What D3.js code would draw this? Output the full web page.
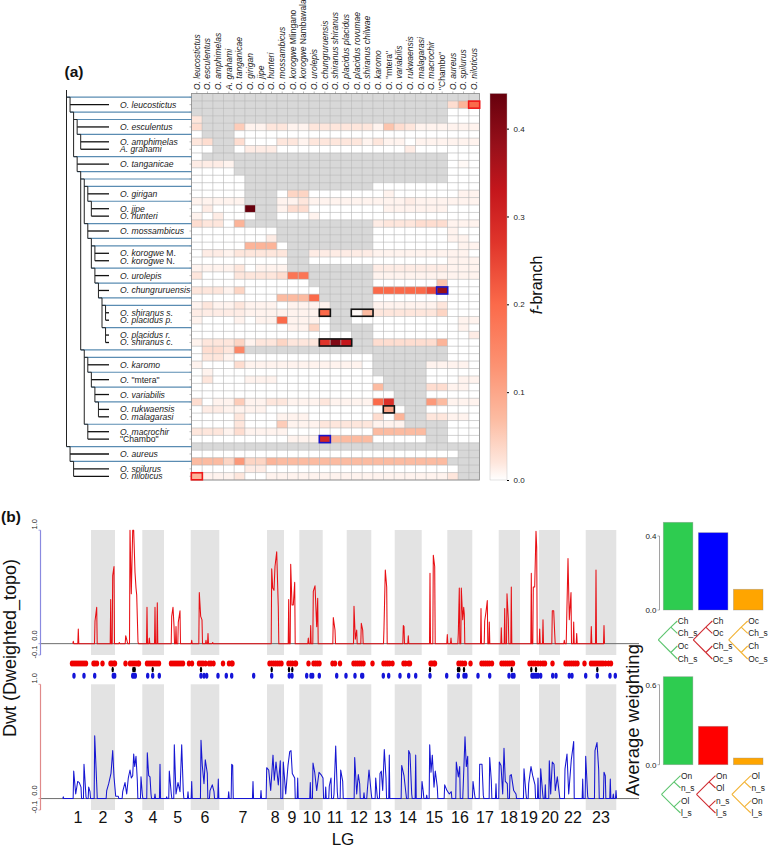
<!DOCTYPE html>
<html><head><meta charset="utf-8">
<script src="https://cdn.jsdelivr.net/npm/d3@7"></script>
<style>html,body{margin:0;padding:0;background:#fff}svg{display:block;font-family:"Liberation Sans",Arial,sans-serif}</style>
</head><body><svg id="c" width="769" height="848"></svg>
<script>
// ---------- DATA ----------
const columnNames = ["O. leucostictus","O. esculentus","O. amphimelas","A. grahami","O. tanganicae","O. girigan","O. jipe","O. hunteri","O. mossambicus","O. korogwe Mlingano","O. korogwe Nambawala","O. urolepis","O. chungruruensis","O. shiranus shiranus","O. placidus placidus","O. placidus rovumae","O. shiranus chilwae","O. karomo","O. \"mtera\"","O. variabilis","O. rukwaensis","O. malagarasi","O. macrochir","\"Chambo\"","O. aureus","O. spilurus","O. niloticus"];
// Ladder tree: arrays are internal branches, strings are tips. Each branch owns one heat-map row (pre-order).
const speciesTree = [
 ["O. leucostictus",[["O. esculentus",["O. amphimelas","A. grahami"]],["O. tanganicae",[
   [["O. girigan",["O. jipe","O. hunteri"]],["O. mossambicus",[["O. korogwe M.","O. korogwe N."],["O. urolepis",["O. chungruruensis",[["O. shiranus s.","O. placidus p."],["O. placidus r.","O. shiranus c."]]]]]]],
   [["O. karomo",["O. \"mtera\"",["O. variabilis",["O. rukwaensis","O. malagarasi"]]]],["O. macrochir","\"Chambo\""]]
 ]]]],
 ["O. aureus",["O. spilurus","O. niloticus"]]
];
// f-branch in hundredths, one string per row; _ = not applicable, v*n = n repeats
const fBranchRows = [
"_*27","_*24 3 8 20","_*24 0 0 0","2 _*23 0 0 0",
"3 _*3 5 1 1 2 2 1 1 2*6 1 6 3 2 1 1 1 1 1 1","0 _*3 0*23","2 3 _ _ 3 0 0 0 2 2 1 2 2 2 2 2 1 2 1 1 0 1 1 1 1 1 1","0 0 _ _ 0 1.5 1.5 1.5 0*12 1.5 0*6",
"0 _*23 0 0 0","1.5 1.5 1.5 1 _*20 0 .5 0","0*4 _*20 0 0 0","0*5 _*19 0 0 0",
"0*5 _*12 0*7 0 0 0","0*5 _*3 0 4 4 0*6 0 1 0 0 0 0 0 0 1 1","1*5 _*3 1 1 2 1*4 1 1 1 1 1 1.5 1 1 1 1 1 1","0 1.5 0 0 0 44 _ _ 1 3 3 0*6 0 1 1 1 1 1 1 0 0 0",
"1 0 1.5 0 0 0 _ _ 0 0 0 1 0*5 0*7 0 0 0","3 2 2 0 8 _*12 1.5 2 2 2 3 3 3 1 1 1","0*8 _*9 0*7 1 0 0","0*7 1.5 _*9 0*7 1 1 0",
"0*5 8 8 8 0 _*8 0*7 0 1 1","0 1.5 1.5 1 2 2 2 2 2 _ _ 1.5*6 1*7 1 1 0","0*9 _ _ 0*6 0*7 1 1 1","1 1 1 1 2 0 1 1 1 _*8 1.5*7 1 1 1",
"2 0 0 0 2 2 2 2 3 18 18 _*6 1*7 1 1 1","0*11 _*6 0*6 6 0 0 0","2 2 2 1 4 0*7 _*5 20 20 20 20 20 24 38 0 0 0","0*8 7 7 7 20 _*5 0*7 0 0 0",
"1 2 1 1 2 1 1 1 0 1 1 1 1 _*4 1 1 1 1 1 1 2 0 0 0","1.5*5 1*7 20 _ _ .5 7 2 2 2 2 2 2 4 0 0 0","1 0 0 0 1 0 1 1 20 1 1 1 0 _ _ 0 0 0*7 0 1 1","0*8 0 1 1 4 0 _*4 0*7 0 1 0",
"0*15 _ _ 0*7 0 0 1.5","1 2 2 2 4 1 2 2 4 2 2 2 27 41 33 _ _ 3*6 8 0 0 0","0 3 3 2 15 _*19 0 0 0","0 2 2 1 0*13 _*7 0 0 0",
"1 0 0 0 3 1*11 0 _*5 1 1 1 1 0","0 1 0*15 _*5 0 0 0 0 0","0 2 0 0 0 1 1 1 0*10 _*4 0 0 0 1 1","0*17 7 _*4 3 3 1 1 0",
"0*17 0 0 _*3 0 0 0 0 0","3 0 1 1 5 1 1 2 2 1 1 1 2 1 1 1 1 20 28 _*3 12 7 1 1 1","0 1.5 1.5 1 1 1 1 0*11 10 0 _ _ 0 0 0 0 0","0 0 0 0 2 0 0 0 1 1 1 0*6 3 0 8 _ _ 2 2 1 1 0",
"0 0 0 0 2 0 0 0 5 1 1 1 2 2 2 2 2 1 1 1 _*4 0 0 0","2 2 2 1 3 1 1 1 1 0*8 7*5 _ _ 0 0 0","0*9 1 1 1 30 7 7 7 7 0*5 _ _ 0 0 0","_*27",
"0*25 _ _","7 7 7 4 12 4 4 8 7*16 _*3","0*5 1.5 1.5 0*18 _ _","8 1 1 1 2 0 0 1*17 2 _ _"];
const highlightBoxes = [
 {row:1,from:26,to:26,color:"#f01818"},{row:51,from:0,to:0,color:"#f01818"},
 {row:26,from:23,to:23,color:"#1a14c8"},{row:46,from:12,to:12,color:"#1a14c8"},
 {row:29,from:12,to:12,color:"#111"},{row:29,from:15,to:16,color:"#111"},
 {row:33,from:12,to:14,color:"#111"},{row:42,from:18,to:18,color:"#111"}];
const fTicks = [0,0.1,0.2,0.3,0.4];

// Genome position unit runs 0..600 across panel (b)
const lgBands = [[51,75],[102.3,124],[150.7,179.3],[227,244],[259.3,282.7],[306.7,331.3],[354.7,381.7],[407.3,432.3],[458.7,480],[499,520],[545.7,576.3]];
const lgNames = ["1","2","3","4","5","6","7","8","9","10","11","12","13","14","15","16","17","18","19","20","22","23"];
const lgCentres = [38,63,88.7,113,137.7,165,203,235.3,252,271.7,295,319,342.7,368,394.3,420,445,469,489,510,533,561];
const redTrace = [[33.3,.02],[38.3,.13],[55,.2],[56.7,.32],[70.7,.39],[72.7,.6],[74,.68],[79.3,.01],[85.7,.07],[87.3,.015],[90,1],[91.3,.44],[92.7,1],[93.7,1],[95,.63],[96,.49],[96.7,.43],[98,.015],[107,.32],[109.3,.05],[115,.32],[117.3,.36],[131.7,.24],[133,.32],[134,.16],[136,.15],[138.3,.19],[140,.29],[151.7,.03],[159.3,.45],[160.7,.24],[162,.21],[166,.03],[168,.09],[172.7,.01],[231.7,.66],[232.7,.49],[234,.47],[235,.68],[236.7,.81],[238.3,.32],[248.7,.39],[250.7,.7],[252,.34],[253.3,.34],[254.7,.54],[268.3,.05],[270.7,.16],[273.3,.46],[275,.51],[276.7,.15],[277.7,.4],[293.3,.23],[295,.12],[314,.33],[315.3,.04],[316.7,.12],[321.3,.18],[322.7,.12],[344,.14],[345.3,.65],[346.7,.5],[363.3,.16],[364,.15],[368.3,.07],[390,.62],[393.3,.78],[394.7,.68],[407.3,.08],[411,.05],[418.3,.09],[419.3,.49],[421.3,.49],[422.7,.21],[423.7,.32],[424.3,.26],[441,.31],[444.7,.2],[446,.28],[447.3,.38],[449.3,.19],[461.3,.14],[464.7,.31],[467,.44],[468.3,.22],[471.3,.5],[491.3,.62],[493.3,.5],[494.7,.5],[496,.99],[496.7,.85],[499.7,.13],[503,.21],[512.3,.29],[513.7,.29],[514.7,.09],[524.3,.03],[526.7,.21],[528,.75],[529.3,.21],[531,.45],[533.7,.19],[536.7,.09],[551.3,.15],[556,.65],[564,.16]];
const blueTrace = [[23.3,.015],[33.7,.24],[35.7,.04],[37.7,.15],[39.3,.14],[41,.1],[44,.3],[46,.015],[48.7,.1],[50,.06],[54.7,.55],[56.7,.13],[66.7,.07],[68.7,.13],[71,.22],[72.7,.42],[74,.19],[75.7,.02],[78.3,.02],[82.7,.06],[85,.14],[86.7,.04],[88.3,.18],[90,.25],[91.3,.18],[92.7,.2],[93.7,.39],[94.7,.28],[96,.37],[97.3,.16],[101,.19],[102.3,.04],[107.3,.4],[108.7,.2],[110,.19],[111,.04],[115,.04],[120,.3],[126.7,.015],[129.3,.24],[131.3,.04],[134.3,.47],[136,.04],[138,.14],[140,.06],[141.7,.47],[143.3,.06],[148,.06],[151.7,.15],[161,.51],[162.3,.29],[164,.13],[165.3,.34],[167.3,.22],[170,.07],[172.3,.12],[174,.06],[178.3,.17],[188.7,.06],[191.7,.3],[192.7,.29],[213,.15],[221,.07],[226.7,.27],[228.7,.25],[230.7,.07],[233,.38],[234.3,.16],[236,.32],[238.3,.12],[240.3,.33],[243.3,.32],[245.7,.04],[248,.29],[249.7,.41],[251,.42],[252.3,.22],[254.7,.18],[257.7,.18],[270.3,.14],[273,.31],[274.7,.23],[276.7,.07],[279,.23],[281,.21],[283,.18],[285.7,.1],[289.3,.11],[291,.18],[294,.04],[295.7,.46],[297.3,.06],[300.7,.25],[302.7,.15],[314.7,.36],[316.7,.04],[318.3,.21],[319.7,.13],[324,.05],[327.3,.07],[329,.25],[331.3,.04],[335.7,.18],[337,.04],[340,.22],[341.3,.24],[342.7,.07],[344.3,.43],[346,.18],[349.3,.38],[361.7,.29],[364,.2],[366,.04],[368.7,.42],[370,.39],[371.7,.04],[375.7,.38],[382,.15],[383.3,.06],[386.7,.03],[389.7,.47],[391,.23],[392.3,.38],[394,.1],[395.3,.24],[397.3,.1],[404.7,.12],[407,.07],[409.3,.04],[411.3,.06],[416.3,.32],[418.3,.19],[419.7,.28],[423.3,.13],[425,.54],[426.3,.28],[427.7,.37],[433,.15],[434.7,.03],[439.7,.3],[442,.3],[443.3,.03],[449.7,.36],[451.3,.16],[456,.13],[459.3,.32],[461,.29],[462.7,.04],[464,.44],[465.3,.15],[467.3,.13],[470,.2],[471.3,.21],[473.7,.07],[476,.04],[484,.26],[486,.04],[488.7,.13],[491,.28],[492.7,.2],[495,.12],[498,.18],[500.7,.26],[502.7,.04],[505.3,.12],[509.3,.33],[510.7,.04],[512.3,.32],[514,.3],[515.3,.07],[517.3,.19],[519.3,.04],[525,.26],[527,.39],[528.7,.04],[531.3,.34],[533.7,.5],[542.7,.17],[545.7,.37],[547.7,.02],[555,.42],[557,.49],[558.7,.25],[564,.23],[565.3,.2],[570.3,.17],[573.3,.04],[576,.07]];
const redMarks = [32,34,36,38,40,42,44,46,53.5,55,57,62.5,70.5,72,74,75,85.5,90,92,94,96,98,99,107,109,111,113,115,117,119,131,133,135,137,139,141,143,149,152,159,161,163,165.5,169,171,173.5,183,189,191.5,192.5,229.5,231.5,233.5,235.5,237.5,239.5,241.5,248.5,250.5,252.5,255,256,268.5,273.5,275.5,277.5,279.5,292.5,295,300,313.5,315.5,317.5,319.5,321.5,323.5,332.5,343.5,345.5,347.5,349.5,352.5,363.5,365.5,368.5,370,390.5,392,394,395,418.5,420.5,422.5,425,430.5,441.5,443.5,445.5,447.5,449.5,452,461.5,463.5,465.5,467.5,469.5,471.5,473,489.5,491.5,493.5,495.5,498,500.5,503,505,512.5,525.5,527.5,529.5,531.5,533.5,535.5,537.5,544.5,551,553,555,557,559,561,563,565.5,568.5,571];
const blueMarks = [34,44,54.7,73.3,74.7,92.7,94,95.3,107.7,112.7,119.3,161,164,166.7,178,186.3,191.7,213.7,231.7,249.3,252,266.7,271,272.7,279.3,296.7,306,315,321.7,322.7,343.3,348.7,360,368.7,375.7,390,406.7,418.3,424,426,438,449.7,469,472.3,474,492,493.3,495,496.7,498.3,500.7,512.7,516,529.3,532,545.7,557.3,570,575.3];
const blackMarks = [72.7,93.3,94.7,112.7,161,231.7,249,252.3,390,418,419.3,424,471.7,491.3,496,557.3];

const topoIds = ["t1","t2","t3"];
const upperWeights = [0.474,0.418,0.112];
const lowerWeights = [0.66,0.288,0.05];
const upperBarColors = ["#2ecc50","#0000ff","#ffa500"];
const lowerBarColors = ["#2ecc50","#ff0000","#ffa500"];
const topoColors = ["#5cc46e","#cf2a30","#f2b233"];
const upperTips = [["Ch","Ch_s","Oc","Ch_s"],["Ch","Oc","Ch_s","Oc_s"],["Oc","Ch_s","Ch","Oc_s"]];
const lowerTips = [["On","n_s","Ol","l_s"],["On","Ol","n_s","l_s"],["Ol","n_s","On","l_s"]];

// ---------- DRAW ----------
const svg = d3.select("#c");
const TXT = "#222";
const fill = (s,n)=>Array(n).fill(s);
const fMatrix = fBranchRows.map(r=>r.split(" ").flatMap(t=>{
  const [v,n]=t.split("*"); return fill(v==="_"?null:+v/100,n?+n:1);}));
const hm = {l:191.5,r:479.5,t:93.5,b:480};
const xC = d3.scaleBand().domain(d3.range(27)).range([hm.l,hm.r]);
const yR = d3.scaleBand().domain(d3.range(52)).range([hm.t,hm.b]);
const yMid = r=>yR(r)+yR.bandwidth()/2;
const color = d3.scaleLinear()
  .domain([0,.02,.07,.13,.2,.27,.33,.38,.44])
  .range(["#ffffff","#fee6dc","#fcbba1","#fc9272","#fb6a4a","#e0352b","#c4161c","#98101a","#67000d"]).clamp(true);

// panel labels
svg.append("text").attr("x",64.5).attr("y",77).attr("font-size",15.5).attr("font-weight","bold").attr("fill","#111").text("(a)");
svg.append("text").attr("x",1).attr("y",522).attr("font-size",15.5).attr("font-weight","bold").attr("fill","#111").text("(b)");

// italic words except the qualifiers
function styled(sel,str){
  const upright=new Set(["M.","N.","Mlingano","Nambawala"]);
  str.split(" ").forEach((w,i,a)=>{
    const q=w.startsWith('"');
    sel.append("tspan").attr("font-style",(upright.has(w)||q)?"normal":"italic").text(w+(i<a.length-1?" ":""));
  });
}

// heat map
const hg = svg.append("g");
fMatrix.forEach((row,r)=>row.forEach((v,c)=>{
  hg.append("rect").attr("x",xC(c)).attr("y",yR(r)).attr("width",xC.bandwidth()).attr("height",yR.bandwidth())
    .attr("fill",v===null?"#d8d8d8":color(v)).attr("stroke","none");
}));
const gridC="#b4b4b4";
d3.range(28).forEach(i=>hg.append("line").attr("x1",hm.l+i*xC.bandwidth()).attr("x2",hm.l+i*xC.bandwidth()).attr("y1",hm.t).attr("y2",hm.b).attr("stroke",gridC).attr("stroke-width",.6));
d3.range(53).forEach(i=>hg.append("line").attr("y1",hm.t+i*yR.bandwidth()).attr("y2",hm.t+i*yR.bandwidth()).attr("x1",hm.l).attr("x2",hm.r).attr("stroke",gridC).attr("stroke-width",.6));
hg.append("rect").attr("x",hm.l).attr("y",hm.t).attr("width",hm.r-hm.l).attr("height",hm.b-hm.t).attr("fill","none").attr("stroke","#8f8f8f").attr("stroke-width",.8);
highlightBoxes.forEach(b=>hg.append("rect")
  .attr("x",xC(b.from)-.2).attr("y",yR(b.row)+.2)
  .attr("width",xC(b.to)+xC.bandwidth()-xC(b.from)+.4).attr("height",yR.bandwidth()-.4)
  .attr("fill","none").attr("stroke",b.color).attr("stroke-width",1.6));
// ticks + column labels
columnNames.forEach((n,c)=>{
  const x=xC(c)+xC.bandwidth()/2;
  hg.append("line").attr("x1",x).attr("x2",x).attr("y1",hm.t-2).attr("y2",hm.t).attr("stroke","#777").attr("stroke-width",.5);
  const t=svg.append("text").attr("transform",`translate(${x+2.8},90) rotate(-90)`).attr("font-size",8.5).attr("fill",TXT);
  styled(t,n);
});
d3.range(52).forEach(r=>hg.append("line").attr("x1",hm.l-2).attr("x2",hm.l).attr("y1",yMid(r)).attr("y2",yMid(r)).attr("stroke","#777").attr("stroke-width",.5));

// tree
const xD = d3.scaleLinear().domain([0,12]).range([66.5,109.1]);
const tg = svg.append("g"); const tipLayer = svg.append("g");
let rowCounter=0;
function walk(node,depth){
  const row=rowCounter++;
  const parentX=xD(depth-1);
  if(typeof node==="string"){
    tg.append("line").attr("x1",parentX).attr("x2",109).attr("y1",yMid(row)).attr("y2",yMid(row)).attr("stroke","#111").attr("stroke-width",1.3);
    const t=tipLayer.append("text").attr("x",120).attr("y",yMid(row)+3).attr("font-size",8.6).attr("fill",TXT);
    styled(t,node);
    return row;
  }
  tg.append("line").attr("x1",parentX).attr("x2",hm.l).attr("y1",yMid(row)).attr("y2",yMid(row)).attr("stroke","#5a8cb2").attr("stroke-width",1.2);
  tg.append("line").attr("x1",parentX).attr("x2",xD(depth)).attr("y1",yMid(row)).attr("y2",yMid(row)).attr("stroke","#222").attr("stroke-width",.9);
  const rows=node.map(k=>walk(k,depth+1));
  tg.append("line").attr("x1",xD(depth)).attr("x2",xD(depth)).attr("y1",yMid(row)).attr("y2",yMid(rows[1])).attr("stroke","#222").attr("stroke-width",1);
  return row;
}
const rootRows=speciesTree.map(k=>walk(k,1));
tg.append("line").attr("x1",xD(0)).attr("x2",xD(0)).attr("y1",90).attr("y2",yMid(rootRows[1])).attr("stroke","#222").attr("stroke-width",1);

// colour bar
const fY=d3.scaleLinear().domain([0,.44]).range([480,93.5]);
const grad=svg.append("defs").append("linearGradient").attr("id","fg").attr("x1",0).attr("x2",0).attr("y1",1).attr("y2",0);
color.domain().forEach(d=>grad.append("stop").attr("offset",d/.44).attr("stop-color",color(d)));
svg.append("rect").attr("x",490).attr("y",93.5).attr("width",17).attr("height",386.5).attr("fill","url(#fg)").attr("stroke","#bbb").attr("stroke-width",.4);
const fAxis=svg.append("g").attr("transform","translate(507,0)").call(d3.axisRight(fY).tickValues(fTicks).tickSize(2).tickFormat(d3.format(".1f")));
fAxis.select(".domain").remove();
fAxis.selectAll("text").attr("font-size",8).attr("font-family","inherit").attr("fill",TXT).attr("dx",1.5);
const fl=svg.append("text").attr("transform","translate(542,285) rotate(-90)").attr("text-anchor","middle").attr("font-size",16).attr("fill","#111");
fl.append("tspan").attr("font-style","italic").text("f");fl.append("tspan").text("-branch");

// panel b
const xP=d3.scaleLinear().domain([0,600]).range([40,640]);
const yU=d3.scaleLinear().domain([-.1,1]).range([655,530.2]);
const yL=d3.scaleLinear().domain([-.1,1]).range([810,684.3]);
const bandG=svg.append("g");
[[530,655],[684.3,810]].forEach(([a,b])=>lgBands.forEach(d=>bandG.append("rect").attr("x",xP(d[0])).attr("width",xP(d[1])-xP(d[0])).attr("y",a).attr("height",b-a).attr("fill","#e3e3e3")));
function traceWithDrops(tr,gap,half){
  const out=[];
  tr.forEach((p,i)=>{
    const prev=tr[i-1],next=tr[i+1];
    if(!prev||p[0]-prev[0]>gap) out.push([p[0]-half,0]);
    out.push(p);
    if(!next||next[0]-p[0]>gap) out.push([p[0]+half,0]);
  });
  return out;
}
[[yU,redTrace,"#e80f14",1.9,.5],[yL,blueTrace,"#1616d2",2.6,.55]].forEach(([y,tr,col,gap,half])=>{
  svg.append("line").attr("x1",xP(0)).attr("x2",639).attr("y1",y(0)).attr("y2",y(0)).attr("stroke","#6e6e6e").attr("stroke-width",1);
  svg.append("path").attr("d",d3.line().x(d=>xP(d[0])).y(d=>y(d[1]))(traceWithDrops(tr,gap,half))).attr("fill","none").attr("stroke",col).attr("stroke-width",1.05).attr("stroke-linejoin","round");
});
// axes
[[yU,"#8a8ae0"],[yL,"#e08a8a"]].forEach(([y,col])=>{
  const g=svg.append("g");
  g.append("line").attr("x1",40.5).attr("x2",40.5).attr("y1",y(1)).attr("y2",y(-.1)).attr("stroke",col).attr("stroke-width",1.2);
  [[1,"1.0",-6],[0,"0.0",-8],[-.1,"-0.1",-3]].forEach(([v,l,dy])=>{
    g.append("line").attr("x1",38.5).attr("x2",40.5).attr("y1",y(v)).attr("y2",y(v)).attr("stroke",col).attr("stroke-width",.8);
    g.append("text").attr("transform",`translate(36.5,${y(v)+dy}) rotate(-90)`).attr("text-anchor","middle").attr("font-size",7.5).attr("fill",TXT).text(l);
  });
});
// marks
redMarks.forEach(p=>svg.append("ellipse").attr("cx",xP(p)).attr("cy",663.4).attr("rx",2.2).attr("ry",3).attr("fill","#f00000"));
blackMarks.forEach(p=>svg.append("ellipse").attr("cx",xP(p)).attr("cy",669.5).attr("rx",1.2).attr("ry",2.8).attr("fill","#000"));
blueMarks.forEach(p=>svg.append("ellipse").attr("cx",xP(p)).attr("cy",675.8).attr("rx",1.7).attr("ry",3).attr("fill","#1414d8"));
// LG labels
lgNames.forEach((n,i)=>svg.append("text").attr("x",xP(lgCentres[i])).attr("y",822.5).attr("text-anchor","middle").attr("font-size",16).attr("fill","#111").text(n));
svg.append("text").attr("x",343).attr("y",844.5).attr("text-anchor","middle").attr("font-size",17).attr("fill","#111").text("LG");
svg.append("text").attr("transform","translate(16,648) rotate(-90)").attr("text-anchor","middle").attr("font-size",18).attr("fill","#111").text("Dwt (Dweighted_topo)");
svg.append("text").attr("transform","translate(639,720) rotate(-90)").attr("text-anchor","middle").attr("font-size",18.5).attr("fill","#111").text("Average weighting");

// weighting bars with topology cartoons
function barPanel(weights,cols,tipSets,y0,yTop,maxTick,tickText,tipY,shift){
  const y=d3.scaleLinear().domain([0,maxTick]).range([y0,yTop]);
  const x=d3.scaleBand().domain(topoIds).range([663.3,763]).paddingInner(.157);
  topoIds.forEach((id,i)=>svg.append("rect").attr("x",x(id)).attr("width",x.bandwidth()).attr("y",y(weights[i])).attr("height",y(0)-y(weights[i]))
    .attr("fill",cols[i]).attr("stroke","#8a8a8a").attr("stroke-opacity",.5).attr("stroke-width",.7));
  svg.append("line").attr("x1",659.5).attr("x2",659.5).attr("y1",y(0)).attr("y2",y(maxTick)).attr("stroke","#8a8a8a").attr("stroke-width",.8);
  [[0,"0.0"],[maxTick,tickText]].forEach(([v,l])=>{
    svg.append("line").attr("x1",657.5).attr("x2",659.5).attr("y1",y(v)).attr("y2",y(v)).attr("stroke","#8a8a8a").attr("stroke-width",.7);
    svg.append("text").attr("x",656.5).attr("y",y(v)+3).attr("text-anchor","end").attr("font-size",8).attr("fill",TXT).text(l);
  });
  const rootX=[658.3+shift,693.3+shift,728.7+shift];
  tipSets.forEach((tips,i)=>{
    const rx=rootX[i],tx=rx+19,midX=rx+12.5;
    const ty=tipY, mU=(ty[0]+ty[1])/2, mL=(ty[2]+ty[3])/2, my=(mU+mL)/2;
    const segs=[[rx,my,midX,mU],[rx,my,midX,mL],[midX,mU,tx,ty[0]],[midX,mU,tx,ty[1]],[midX,mL,tx,ty[2]],[midX,mL,tx,ty[3]]];
    segs.forEach(s=>svg.append("line").attr("x1",s[0]).attr("y1",s[1]).attr("x2",s[2]).attr("y2",s[3]).attr("stroke",topoColors[i]).attr("stroke-width",1.1));
    tips.forEach((t,j)=>svg.append("text").attr("x",tx+.5).attr("y",ty[j]+3).attr("font-size",8.4).attr("fill",TXT).text(t));
  });
}
barPanel(upperWeights,upperBarColors,upperTips,610,536,.4,"0.4",[621,633.3,646,659],0);
barPanel(lowerWeights,lowerBarColors,lowerTips,764.7,684.7,.6,"0.6",[775.7,788,800.7,813],3.2);
</script></body></html>
